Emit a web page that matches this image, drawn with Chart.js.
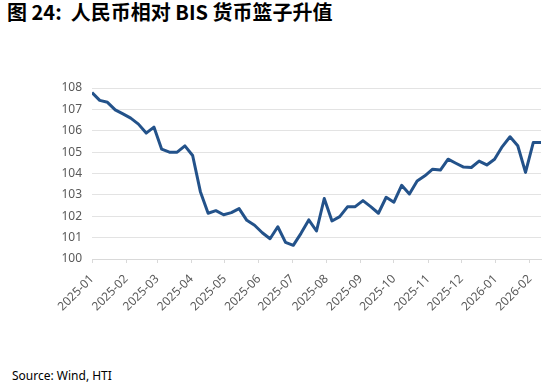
<!DOCTYPE html>
<html>
<head>
<meta charset="utf-8">
<script src="https://cdn.jsdelivr.net/npm/chart.js@4"></script>
<style>
  html, body { margin: 0; padding: 0; background: #fff; }
  body { width: 550px; height: 386px; position: relative; overflow: hidden; }
  #title { position: absolute; left: 7px; top: 2px; font: bold 20px/20px "Noto Sans CJK SC", sans-serif; color: #000; white-space: pre; }
  #source { position: absolute; left: 12px; top: 367px; font: 12px "Noto Sans", sans-serif; color: #000; }
  #wrap { position: absolute; left: 0; top: 0; width: 550px; height: 386px; }
</style>
</head>
<body>
<div id="title">图 24:  人民币相对 BIS 货币篮子升值</div>
<div id="source">Source: Wind, HTI</div>
<div id="wrap"><canvas id="chart"></canvas></div>
<script>
// weekly observations
const dates = [
  "2025-01-01", "2025-01-08", "2025-01-15", "2025-01-22", "2025-01-29",
  "2025-02-05", "2025-02-12", "2025-02-19", "2025-02-26",
  "2025-03-05", "2025-03-12", "2025-03-19", "2025-03-26",
  "2025-04-02", "2025-04-09", "2025-04-16", "2025-04-23", "2025-04-30",
  "2025-05-07", "2025-05-14", "2025-05-21", "2025-05-28",
  "2025-06-04", "2025-06-11", "2025-06-18", "2025-06-25",
  "2025-07-02", "2025-07-09", "2025-07-16", "2025-07-23", "2025-07-30",
  "2025-08-06", "2025-08-13", "2025-08-20", "2025-08-27",
  "2025-09-03", "2025-09-10", "2025-09-17", "2025-09-24",
  "2025-10-01", "2025-10-08", "2025-10-15", "2025-10-22", "2025-10-29",
  "2025-11-05", "2025-11-12", "2025-11-19", "2025-11-26",
  "2025-12-03", "2025-12-10", "2025-12-17", "2025-12-24", "2025-12-31",
  "2026-01-07", "2026-01-14", "2026-01-21", "2026-01-28",
  "2026-02-04", "2026-02-11"
];

const index = [
  107.79, 107.42, 107.33, 106.98, 106.79,
  106.59, 106.31, 105.89, 106.17,
  105.14, 105.00, 105.00, 105.29,
  104.84, 103.15, 102.14, 102.26, 102.07,
  102.17, 102.36, 101.81, 101.58,
  101.23, 100.95, 101.51, 100.78,
  100.64, 101.20, 101.83, 101.31, 102.83,
  101.78, 101.98, 102.44, 102.45,
  102.73, 102.45, 102.14, 102.89,
  102.66, 103.45, 103.04, 103.65, 103.89,
  104.20, 104.16, 104.67, 104.48,
  104.30, 104.28, 104.58, 104.40, 104.67,
  105.26, 105.72, 105.30, 104.05,
  105.45, 105.45
];

const monthLabels = [
  "2025-01", "2025-02", "2025-03", "2025-04", "2025-05", "2025-06", "2025-07",
  "2025-08", "2025-09", "2025-10", "2025-11", "2025-12", "2026-01", "2026-02"
];

const DAY = 86400000;
const t0 = Date.UTC(2025, 0, 1);
const dayOf = s => (Date.parse(s + "T00:00:00Z") - t0) / DAY;
const monthDays = monthLabels.map(m => dayOf(m + "-01"));

const points = dates.map((d, i) => ({ x: dayOf(d), y: index[i] }));

const tickFont = { family: "Noto Sans", size: 12 };

new Chart(document.getElementById("chart"), {
  type: "line",
  data: {
    datasets: [{
      data: points,
      borderColor: "#23528a",
      borderWidth: 3,
      pointRadius: 0,
      tension: 0,
      borderJoinStyle: "round"
    }]
  },
  options: {
    responsive: true,
    maintainAspectRatio: false,
    animation: false,
    layout: { padding: { top: 88, right: 9, left: 0, bottom: 0 } },
    plugins: { legend: { display: false }, tooltip: { enabled: false } },
    scales: {
      x: {
        type: "linear",
        min: 0,
        max: dayOf(dates[dates.length - 1]),
        afterBuildTicks: s => { s.ticks = monthDays.map(v => ({ value: v })); },
        afterFit: s => { s.height = 127; },
        ticks: {
          color: "#595959",
          font: tickFont,
          minRotation: 45,
          maxRotation: 45,
          padding: 9,
          autoSkip: false,
          callback: v => monthLabels[monthDays.indexOf(v)]
        },
        grid: { drawOnChartArea: false, drawTicks: true, tickLength: 4, color: "#d9d9d9" },
        border: { color: "#d9d9d9", width: 1 }
      },
      y: {
        min: 100,
        max: 108,
        afterFit: s => { s.width = 92; },
        ticks: { stepSize: 1, color: "#595959", font: tickFont, padding: 10 },
        grid: { color: "#e3e3e3", drawTicks: false },
        border: { display: false }
      }
    }
  }
});
</script>
</body>
</html>
